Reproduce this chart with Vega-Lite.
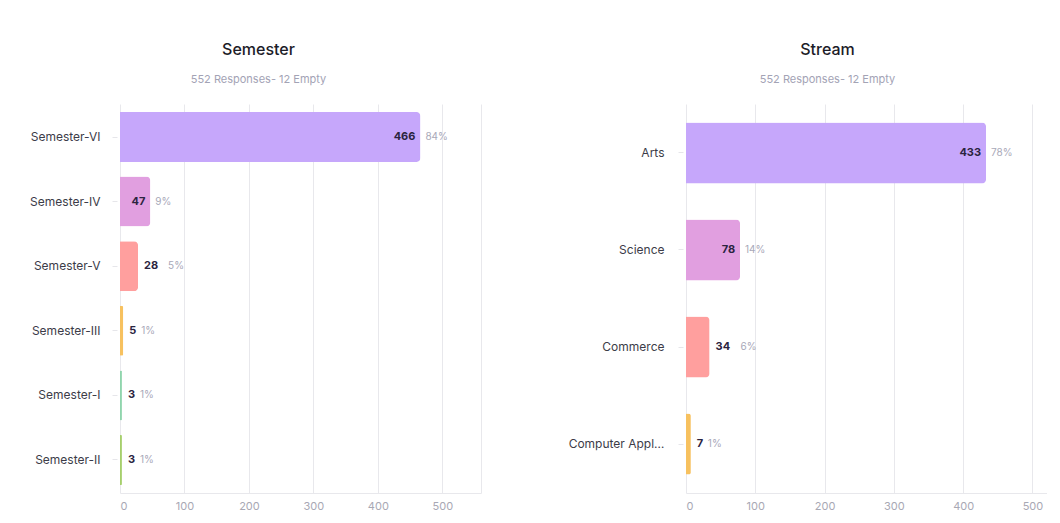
{
  "$schema": "https://vega.github.io/schema/vega-lite/v6.json",
  "background": "white",
  "padding": {"left": 7, "top": 42, "right": 0, "bottom": 0},
  "spacing": 82,
  "config": {
    "font": "Inter",
    "view": {"stroke": null},
    "title": {"anchor": "middle", "fontSize": 16, "fontWeight": 500, "color": "#1c1c28", "subtitleColor": "#a3a3b5", "subtitleFontSize": 11, "subtitlePadding": 16, "offset": 19},
    "axisX": {"grid": true, "gridColor": "#e8e8ec", "domainColor": "#e8e8ec", "ticks": false, "labelColor": "#a8a8b4", "labelFontSize": 11, "labelPadding": 7, "title": null},
    "axisY": {"title": null, "labelFontSize": 12, "labelColor": "#3c3c48", "domain": false, "tickColor": "#e6e6ea", "tickSize": 5, "offset": 3}
  },
  "hconcat": [
    {
      "width": 361,
      "height": 389,
      "title": {"text": "Semester", "subtitle": "552 Responses- 12 Empty", "dx": -42},
      "data": {"values": [
        {"cat": "Semester-VI", "n": 466, "pct": 0.84},
        {"cat": "Semester-IV", "n": 47, "pct": 0.09},
        {"cat": "Semester-V", "n": 28, "pct": 0.05},
        {"cat": "Semester-III", "n": 5, "pct": 0.01},
        {"cat": "Semester-I", "n": 3, "pct": 0.01},
        {"cat": "Semester-II", "n": 3, "pct": 0.01}
      ]},
      "encoding": {
        "y": {"field": "cat", "type": "nominal", "sort": null, "scale": {"paddingInner": 0.226, "paddingOuter": 0.124}, "axis": {"labelPadding": 12, "minExtent": 110, "maxExtent": 110}},
        "x": {"field": "n", "type": "quantitative", "scale": {"domain": [0, 560]}, "axis": {"values": [0, 100, 200, 300, 400, 500, 560], "labelExpr": "datum.value > 500 ? '' : datum.label"}}
      },
      "layer": [
        {"mark": {"type": "bar", "cornerRadiusEnd": 4}, "encoding": {"color": {"field": "cat", "type": "nominal", "legend": null, "scale": {"domain": ["Semester-VI", "Semester-IV", "Semester-V", "Semester-III", "Semester-I", "Semester-II"], "range": ["#c6a7fb", "#e19fe0", "#ff9f9e", "#f7c15f", "#90d5ad", "#a6cf6c"]}}}},
        {"transform": [{"filter": "datum.n >= 40"}], "mark": {"type": "text", "align": "right", "dx": -5, "fontWeight": "bold", "fontSize": 11, "color": "#2b2440"}, "encoding": {"text": {"field": "n"}}},
        {"transform": [{"filter": "datum.n < 40"}], "mark": {"type": "text", "align": "left", "dx": 6, "fontWeight": "bold", "fontSize": 11, "color": "#2b2440"}, "encoding": {"text": {"field": "n"}}},
        {"transform": [{"filter": "datum.n >= 40"}], "mark": {"type": "text", "align": "left", "dx": 5, "fontSize": 10, "color": "#a8a8b8"}, "encoding": {"text": {"field": "pct", "format": ".0%"}}},
        {"transform": [{"filter": "datum.n < 40 && datum.n >= 10"}], "mark": {"type": "text", "align": "left", "dx": 30, "fontSize": 10, "color": "#a8a8b8"}, "encoding": {"text": {"field": "pct", "format": ".0%"}}},
        {"transform": [{"filter": "datum.n < 10"}], "mark": {"type": "text", "align": "left", "dx": 18, "fontSize": 10, "color": "#a8a8b8"}, "encoding": {"text": {"field": "pct", "format": ".0%"}}}
      ]
    },
    {
      "width": 361,
      "height": 389,
      "title": {"text": "Stream", "subtitle": "552 Responses- 12 Empty", "dx": -39},
      "data": {"values": [
        {"cat": "Arts", "n": 433, "pct": 0.78},
        {"cat": "Science", "n": 78, "pct": 0.14},
        {"cat": "Commerce", "n": 34, "pct": 0.06},
        {"cat": "Computer Applications", "n": 7, "pct": 0.01}
      ]},
      "encoding": {
        "y": {"field": "cat", "type": "nominal", "sort": null, "scale": {"paddingInner": 0.37, "paddingOuter": 0.19}, "axis": {"labelPadding": 14, "labelLimit": 96, "minExtent": 120, "maxExtent": 120}},
        "x": {"field": "n", "type": "quantitative", "scale": {"domain": [0, 521]}, "axis": {"values": [0, 100, 200, 300, 400, 500, 521], "labelExpr": "datum.value > 500 ? '' : datum.label"}}
      },
      "layer": [
        {"mark": {"type": "bar", "cornerRadiusEnd": 4}, "encoding": {"color": {"field": "cat", "type": "nominal", "legend": null, "scale": {"domain": ["Arts", "Science", "Commerce", "Computer Applications"], "range": ["#c6a7fb", "#e19fe0", "#ff9f9e", "#f7c15f"]}}}},
        {"transform": [{"filter": "datum.n >= 40"}], "mark": {"type": "text", "align": "right", "dx": -5, "fontWeight": "bold", "fontSize": 11, "color": "#2b2440"}, "encoding": {"text": {"field": "n"}}},
        {"transform": [{"filter": "datum.n < 40"}], "mark": {"type": "text", "align": "left", "dx": 6, "fontWeight": "bold", "fontSize": 11, "color": "#2b2440"}, "encoding": {"text": {"field": "n"}}},
        {"transform": [{"filter": "datum.n >= 40"}], "mark": {"type": "text", "align": "left", "dx": 5, "fontSize": 10, "color": "#a8a8b8"}, "encoding": {"text": {"field": "pct", "format": ".0%"}}},
        {"transform": [{"filter": "datum.n < 40 && datum.n >= 10"}], "mark": {"type": "text", "align": "left", "dx": 31, "fontSize": 10, "color": "#a8a8b8"}, "encoding": {"text": {"field": "pct", "format": ".0%"}}},
        {"transform": [{"filter": "datum.n < 10"}], "mark": {"type": "text", "align": "left", "dx": 17, "fontSize": 10, "color": "#a8a8b8"}, "encoding": {"text": {"field": "pct", "format": ".0%"}}}
      ]
    }
  ],
  "resolve": {"scale": {"color": "independent", "x": "independent", "y": "independent"}}
}
